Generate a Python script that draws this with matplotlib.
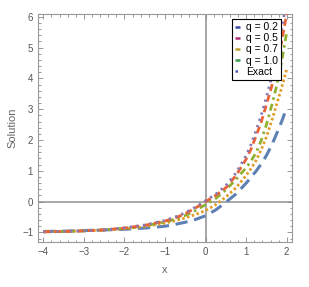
import matplotlib
matplotlib.use("Agg")
import matplotlib.pyplot as plt
import numpy as np
from matplotlib.lines import Line2D
from matplotlib.ticker import MultipleLocator, FuncFormatter

plt.rcParams['font.family'] = ['Liberation Sans', 'DejaVu Sans']

x_vals = [-4, -3.5, -3, -2.5, -2, -1.5, -1, -0.75, -0.5, -0.25, 0, 0.25, 0.5, 0.75,
          1, 1.125, 1.25, 1.375, 1.5, 1.625, 1.75, 1.875, 2]
q02 = [-0.97, -0.96, -0.94, -0.92, -0.9, -0.86, -0.8, -0.74, -0.67, -0.58, -0.46, -0.27, -0.02, 0.25,
       0.6, 0.8, 1.0, 1.23, 1.5, 1.82, 2.2, 2.6, 3.05]
q05 = [-0.98, -0.97, -0.95, -0.92, -0.88, -0.81, -0.7, -0.62, -0.53, -0.42, -0.29, -0.1, 0.15, 0.45,
       0.85, 1.08, 1.35, 1.7, 2.1, 2.6, 3.15, 3.7, 4.3]
q07 = [-0.98, -0.97, -0.95, -0.92, -0.87, -0.79, -0.66, -0.57, -0.45, -0.29, -0.1, 0.1, 0.38, 0.72,
       1.1, 1.33, 1.6, 2.0, 2.5, 3.1, 3.75, 4.55, 5.5]
q10 = [-0.98, -0.97, -0.95, -0.92, -0.86, -0.77, -0.63, -0.53, -0.39, -0.21, 0.0, 0.2, 0.45, 0.85,
       1.38, 1.72, 2.15, 2.6, 3.15, 3.72, 4.4, 5.2, 6.1]
exact = [-0.98, -0.97, -0.95, -0.92, -0.85, -0.76, -0.61, -0.5, -0.36, -0.18, 0.03, 0.24, 0.52, 0.93,
         1.5, 1.87, 2.33, 2.82, 3.4, 4.02, 4.75, 5.6, 6.5]

labels = ["q = 0.2", "q = 0.5", "q = 0.7", "q = 1.0", "Exact"]
legend_colors = ["#3b4ba8", "#b0307a", "#b8a030", "#3a9a4a", "#4a5ab0"]

fig = plt.figure(figsize=(3.09, 2.87), dpi=100)
ax = fig.add_axes([0.123, 0.157, 0.822, 0.794])

xs = np.array(x_vals)
ax.axhline(0, color="#a0a0a0", lw=1.3, zorder=1)
ax.axvline(0, color="#a0a0a0", lw=1.3, zorder=1)

ax.plot(xs, q02, color="#5E81B5", lw=2.2, dashes=(4, 2.2), zorder=3)
ax.plot(xs, q05, color="#E19C24", lw=2.0, dashes=(0.9, 0.9), zorder=3)
ax.plot(xs, q07, color="#8FB032", lw=2.0, dashes=(2.5, 1.5, 0.9, 1.5), zorder=3)
ax.plot(xs, q10, color="#EB6235", lw=2.0, dashes=(2.5, 1.5), zorder=3)
ax.plot(xs, exact, color="#8778B3", lw=2.0, dashes=(0.8, 1.6), zorder=4)

ax.set_xlim(-4.13, 2.13)
ax.set_ylim(-1.31, 6.09)
ax.xaxis.set_major_locator(MultipleLocator(1))
ax.yaxis.set_major_locator(MultipleLocator(1))
ax.xaxis.set_minor_locator(MultipleLocator(0.2))
ax.yaxis.set_minor_locator(MultipleLocator(0.2))
ax.tick_params(which="both", direction="in", top=True, right=True, colors="#888888",
               labelcolor="#555555", labelsize=7, width=0.6)
ax.tick_params(which="major", length=3.5)
ax.tick_params(which="minor", length=1.8)
fmt = FuncFormatter(lambda v, p: f"{int(round(v))}".replace("-", "\u2212"))
ax.xaxis.set_major_formatter(fmt)
ax.yaxis.set_major_formatter(fmt)
for s in ax.spines.values():
    s.set_color("#999999")
    s.set_linewidth(0.8)

ax.set_xlabel("x", color="#666666", fontsize=8, labelpad=6)
ax.set_ylabel("Solution", color="#666666", fontsize=8, labelpad=3)

handles = []
for lab, c in zip(labels, legend_colors):
    if lab == "Exact":
        handles.append(Line2D([], [], color=c, lw=1.8, dashes=(1, 2.2)))
    else:
        handles.append(Line2D([], [], color=c, lw=1.8, solid_capstyle="butt"))
leg = ax.legend(handles, labels, loc="upper right", bbox_to_anchor=(0.977, 1.0),
                fontsize=7.5, handlelength=0.4, handletextpad=0.6, borderpad=0.3,
                labelspacing=0.1, fancybox=False, framealpha=1, edgecolor="black")
leg.get_frame().set_linewidth(0.8)
leg.set_zorder(5)

fig.savefig("out.png", dpi=100)
